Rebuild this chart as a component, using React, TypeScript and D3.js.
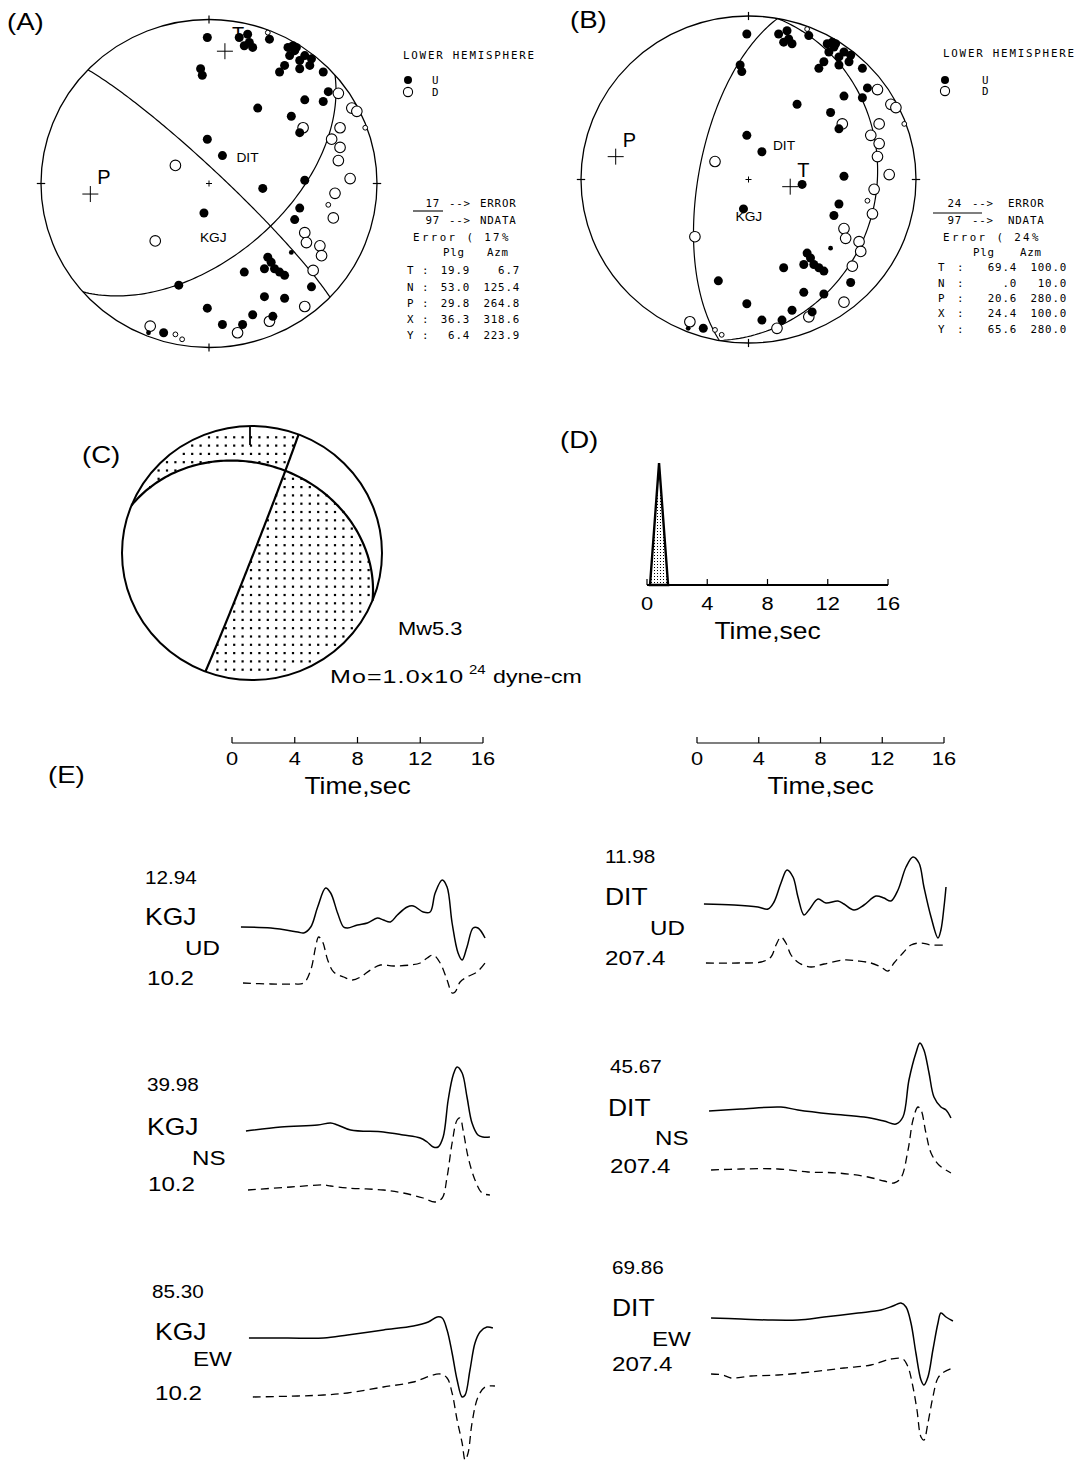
import React from "react";
import * as d3 from "d3";

const DEG = Math.PI / 180;
const SANS = "'Liberation Sans', Arial, Helvetica, sans-serif";
const MONO = "'DejaVu Sans Mono', 'Liberation Mono', monospace";
const SX = 1.15;

// first-motion readings, as positions on the unit net [east, north]
const compressions: [number, number][] = [
  [-0.01, 0.89], [-0.05, 0.7], [-0.04, 0.66], [0.18, 0.89], [0.23, 0.91], [0.24, 0.86],
  [0.26, 0.83], [0.21, 0.84], [0.36, 0.88], [0.5, 0.84], [0.48, 0.78], [0.54, 0.75],
  [0.45, 0.72], [0.42, 0.68], [0.51, 0.81], [0.57, 0.78], [0.6, 0.72], [0.52, 0.83],
  [0.47, 0.83], [0.54, 0.7], [0.61, 0.76], [0.68, 0.68], [0.71, 0.56], [0.68, 0.5],
  [0.57, 0.51], [0.29, 0.46], [0.49, 0.41], [0.54, 0.31], [-0.01, 0.27], [0.57, 0.02],
  [0.32, -0.03], [0.54, -0.15], [0.51, -0.22], [0.35, -0.45], [0.37, -0.48], [0.39, -0.52],
  [0.42, -0.54], [0.45, -0.56], [0.33, -0.52], [0.21, -0.54], [-0.18, -0.62], [0.61, -0.63],
  [0.33, -0.69], [0.45, -0.7], [-0.01, -0.76], [0.26, -0.8], [0.38, -0.81], [0.08, -0.86],
  [0.2, -0.86], [-0.27, -0.91],
];
const weakCompressions: [number, number][] = [[0.49, -0.42], [-0.36, -0.91]];
const dilatations: [number, number][] = [
  [0.77, 0.55], [0.85, 0.46], [0.88, 0.44], [0.56, 0.34], [0.78, 0.34], [0.73, 0.27],
  [0.78, 0.22], [0.77, 0.14], [0.84, 0.03], [0.75, -0.06], [0.74, -0.21], [0.57, -0.3],
  [0.58, -0.36], [0.66, -0.38], [0.67, -0.44], [0.62, -0.53], [0.57, -0.75], [0.36, -0.84],
  [0.17, -0.91], [-0.2, 0.11], [-0.32, -0.35], [-0.35, -0.87],
];
const weakDilatations: [number, number][] = [
  [0.93, 0.34], [0.71, -0.13], [0.35, 0.92], [-0.2, -0.92], [-0.16, -0.95],
];
const stationNames = ["KGJ", "DIT"];
const stationNet: [number, number][] = [[-0.03, -0.18], [0.08, 0.17]];

// focal mechanism solutions (A) and (B)
const axisNames = ["T", "N", "P", "X", "Y"];
const plungeA = [19.9, 53.0, 29.8, 36.3, 6.4];
const azimuthA = [6.7, 125.4, 264.8, 318.6, 223.9];
const plungeB = [69.4, 0.0, 20.6, 24.4, 65.6];
const azimuthB = [100.0, 10.0, 280.0, 100.0, 280.0];
const errorCounts = [17, 24];
const dataCounts = [97, 97];
const errorPercents = [17, 24];

// (C) final mechanism: [strike, dip]
const finalPlanes: [number, number][] = [[21, 89], [292, 31]];
const compressionalDir = [135, 45]; // trend, plunge inside the shaded quadrant
const mw = 5.3;
const moMantissa = 1.0;
const moExponent = 24;

// (D) source time function
const stfTime = [0, 0.2, 0.8, 1.4, 16];
const stfAmp = [0, 0, 1, 0, 0];
const timeTicks = [0, 4, 8, 12, 16];

// (E) waveforms [time sec, amplitude]
const kgjUdObs: [number, number][] = [
  [0.57, 0], [2.48, -0.1], [4.19, -0.5], [4.57, -0.6], [5.02, 0], [5.46, 2.0], [5.97, 3.9],
  [6.29, 3.4], [6.73, 1.4], [7.11, 0], [7.37, -0.1], [8.0, 0.2], [8.63, 0.4], [9.27, 0.9],
  [9.65, 0.7], [10.1, 0.5], [10.54, 1.2], [11.17, 2.0], [11.56, 2.1], [12.19, 1.5], [12.63, 1.5],
  [12.95, 3.4], [13.4, 4.7], [13.71, 4.0], [14.03, 0.4], [14.41, -2.6], [14.67, -3.3],
  [14.98, -2.0], [15.37, -0.1], [15.68, -0.1], [16.13, -1.1],
];
const kgjUdSyn: [number, number][] = [
  [0.7, 0], [2.48, -0.1], [3.94, -0.1], [4.57, 0], [5.02, 1.3], [5.33, 3.6], [5.52, 4.6],
  [5.78, 4.1], [6.1, 2.3], [6.48, 1.1], [7.11, 0.6], [7.68, 0.3], [8.19, 0.6], [8.83, 1.3],
  [9.46, 1.8], [10.29, 1.7], [11.37, 1.8], [12.0, 2.0], [12.44, 2.5], [12.83, 2.8], [13.27, 2.0],
  [13.71, 0.3], [14.03, -1.0], [14.22, -0.9], [14.54, 0.1], [14.98, 0.6], [15.62, 1.1], [16.13, 2.0],
];
const kgjNsObs: [number, number][] = [
  [0.89, 0], [3.11, 0.4], [5.46, 0.6], [6.29, 0.8], [6.73, 0.6], [7.56, 0.1], [9.65, -0.1],
  [10.92, -0.4], [12.0, -0.7], [12.44, -1.1], [12.83, -1.6], [13.14, -1.6], [13.46, -0.6],
  [13.78, 3.1], [14.1, 5.6], [14.35, 6.4], [14.67, 5.8], [14.98, 3.4], [15.3, 0.8], [15.68, -0.4],
  [16.0, -0.6], [16.44, -0.6],
];
const kgjNsSyn: [number, number][] = [
  [1.02, 0], [3.75, 0.3], [5.84, 0.5], [6.29, 0.4], [7.37, 0.2], [9.65, 0], [10.92, -0.3],
  [12.19, -0.8], [12.95, -1.2], [13.4, -0.8], [13.71, 1.3], [14.03, 4.7], [14.35, 7.0],
  [14.54, 7.2], [14.73, 6.0], [15.05, 3.3], [15.49, 1.0], [15.94, -0.3], [16.44, -0.5],
];
const kgjEwObs: [number, number][] = [
  [1.08, 0], [3.56, 0], [5.84, 0], [7.37, 0.3], [9.65, 0.8], [11.56, 1.2], [12.51, 1.6],
  [13.08, 2.1], [13.4, 2.0], [13.71, 0.8], [14.03, -1.5], [14.35, -4.2], [14.67, -5.9],
  [14.86, -5.7], [15.17, -3.2], [15.49, -0.5], [15.81, 0.6], [16.25, 1.1], [16.63, 1.0],
];
const kgjEwSyn: [number, number][] = [
  [1.33, 0], [4.19, 0.1], [5.84, 0.2], [7.37, 0.4], [9.65, 1.0], [11.56, 1.5], [12.63, 2.1],
  [13.27, 2.3], [13.71, 1.9], [14.03, 0.4], [14.35, -2.3], [14.67, -4.6], [14.86, -6.3],
  [15.05, -5.6], [15.3, -2.6], [15.68, 0], [16.13, 1.0], [16.76, 1.1],
];
const ditUdObs: [number, number][] = [
  [0.45, 0], [2.4, -0.1], [3.95, -0.3], [4.6, -0.5], [4.99, 0.2], [5.44, 2.1], [5.83, 3.4],
  [6.22, 2.7], [6.54, 0.7], [6.93, -1.1], [7.25, -0.6], [7.84, 0.5], [8.35, 0.1], [9.13, 0.3],
  [9.52, 0], [10.17, -0.6], [10.82, -0.1], [11.59, 0.8], [12.11, 0.6], [12.56, 0.3], [13.02, 1.4],
  [13.54, 3.7], [13.99, 4.7], [14.38, 4.1], [14.7, 1.7], [15.16, -1.3], [15.61, -3.4],
  [15.8, -2.6], [16.0, -0.3], [16.13, 1.7],
];
const ditUdSyn: [number, number][] = [
  [0.58, 0], [2.66, 0], [4.15, 0.1], [4.79, 0.6], [5.12, 1.8], [5.44, 2.6], [5.76, 2.0],
  [6.09, 0.8], [6.61, 0], [7.38, -0.4], [8.23, -0.1], [9.52, 0.3], [10.43, 0.2], [11.27, 0],
  [11.92, -0.4], [12.37, -0.8], [12.76, 0], [13.34, 1.0], [13.86, 1.8], [14.51, 2.0],
  [15.16, 1.8], [16.13, 1.8],
];
const ditNsObs: [number, number][] = [
  [0.78, 0], [2.85, 0.2], [5.44, 0.4], [6.54, 0.1], [8.68, -0.3], [10.82, -0.6], [12.11, -1.0],
  [12.89, -1.3], [13.34, -0.6], [13.73, 3.1], [14.18, 5.8], [14.44, 6.8], [14.7, 6.1],
  [15.03, 3.8], [15.35, 1.4], [15.8, 0.4], [16.13, 0.1], [16.45, -0.7],
];
const ditNsSyn: [number, number][] = [
  [0.91, 0], [2.85, 0.1], [5.25, 0.1], [7.19, -0.2], [9.13, -0.3], [11.08, -0.7], [12.11, -1.1],
  [12.76, -1.3], [13.21, -0.8], [13.67, 2.0], [13.99, 5.0], [14.31, 6.3], [14.51, 6.0],
  [14.83, 3.7], [15.16, 1.7], [15.67, 0.5], [16.45, -0.3],
];
const ditEwObs: [number, number][] = [
  [0.91, 0], [2.85, -0.1], [4.6, -0.2], [6.54, -0.2], [8.23, 0.1], [10.43, 0.5], [11.92, 0.8],
  [12.69, 1.2], [13.21, 1.5], [13.54, 1.1], [13.86, -0.5], [14.18, -3.5], [14.51, -6.2],
  [14.7, -6.7], [14.96, -5.9], [15.28, -3.2], [15.61, -0.5], [15.8, 0.5], [16.13, 0.1], [16.58, -0.3],
];
const ditEwSyn: [number, number][] = [
  [0.91, 0], [1.68, -0.1], [2.2, -0.4], [3.5, -0.2], [5.25, -0.1], [7.38, 0.2], [9.52, 0.6],
  [11.27, 0.9], [12.56, 1.5], [13.34, 1.5], [13.67, 0.7], [13.99, -1.3], [14.25, -3.6],
  [14.51, -6.3], [14.7, -6.6], [14.96, -4.9], [15.28, -2.3], [15.61, -0.4], [16.0, 0.2], [16.58, 0.6],
];
const components = ["UD", "NS", "EW"];
const peakAmps = [[12.94, 39.98, 85.3], [11.98, 45.67, 69.86]];
const stationAzimuths = [10.2, 207.4];
const observed = [[kgjUdObs, kgjNsObs, kgjEwObs], [ditUdObs, ditNsObs, ditEwObs]];
const synthetic = [[kgjUdSyn, kgjNsSyn, kgjEwSyn], [ditUdSyn, ditNsSyn, ditEwSyn]];

// ---------- layout ----------
const netA = { cx: 209, cy: 183.5, rx: 168, ry: 164, label: [[-4, 29], [14, 6]] };
const netB = { cx: 748.5, cy: 179.5, rx: 167.5, ry: 163.5, label: [[-8, 12], [11, -2]] };
const tableA = {
  titleX: 403, titleY: 59, symX: 408, upY: 80, downY: 92, letterX: 432, numRight: 440,
  arrowX: 449, wordX: 480, barX1: 413, barX2: 443, barY: 211, errX: 413, plgX: 443, azmX: 487,
  keyX: 407, colonX: 422, v1Right: 470, v2Right: 520, rowY: [207, 224, 241, 256, 274, 291, 307, 323, 339],
};
const tableB = {
  titleX: 943, titleY: 57, symX: 945, upY: 80, downY: 91, letterX: 982, numRight: 962,
  arrowX: 972, wordX: 1008, barX1: 933, barX2: 982, barY: 213, errX: 943, plgX: 973, azmX: 1020,
  keyX: 938, colonX: 957, v1Right: 1017, v2Right: 1067, rowY: [207, 224, 241, 256, 271, 287, 302, 317, 333],
};
const ball = { cx: 252, cy: 553, rx: 130, ry: 127 };
const rows = [
  { s: 0, c: 0, obsY: 927, synY: 983, amp: [145, 884], sta: [145, 925], comp: [185, 955], az: [147, 985] },
  { s: 0, c: 1, obsY: 1131, synY: 1190, amp: [147, 1091], sta: [147, 1135], comp: [192, 1165], az: [148, 1191] },
  { s: 0, c: 2, obsY: 1338, synY: 1397, amp: [152, 1298], sta: [155, 1340], comp: [193, 1366], az: [155, 1400] },
  { s: 1, c: 0, obsY: 904, synY: 963, amp: [605, 863], sta: [605, 905], comp: [650, 935], az: [605, 965] },
  { s: 1, c: 1, obsY: 1111, synY: 1170, amp: [610, 1073], sta: [608, 1116], comp: [655, 1145], az: [610, 1173] },
  { s: 1, c: 2, obsY: 1318, synY: 1374, amp: [612, 1274], sta: [612, 1316], comp: [652, 1346], az: [612, 1371] },
];
const timeLeft = d3.scaleLinear().domain([0, 16]).range([232, 483]);
const timeRight = d3.scaleLinear().domain([0, 16]).range([697, 944]);
const timeStf = d3.scaleLinear().domain([0, 16]).range([647, 888]);

// ---------- geometry helpers ----------
const project = (trend: number, plunge: number): [number, number] => {
  const r = Math.SQRT2 * Math.sin(((90 - plunge) / 2) * DEG);
  return [r * Math.sin(trend * DEG), r * Math.cos(trend * DEG)];
};
const lineVector = (trend: number, plunge: number) => [
  Math.cos(plunge * DEG) * Math.sin(trend * DEG),
  Math.cos(plunge * DEG) * Math.cos(trend * DEG),
  Math.sin(plunge * DEG),
];
const greatCircle = (strike: number, dip: number): [number, number][] => {
  const s = strike * DEG;
  const d = dip * DEG;
  const sv = [Math.sin(s), Math.cos(s), 0];
  const dv = [Math.cos(d) * Math.sin(s + Math.PI / 2), Math.cos(d) * Math.cos(s + Math.PI / 2), Math.sin(d)];
  return d3.range(0, 180.01, 1.5).map((lam) => {
    const l = lam * DEG;
    const v = sv.map((c, i) => Math.cos(l) * c + Math.sin(l) * dv[i]);
    const plunge = Math.asin(Math.max(-1, Math.min(1, v[2]))) / DEG;
    const trend = Math.atan2(v[0], v[1]) / DEG;
    return project(trend, plunge);
  });
};
const fmt = (v: number) => v.toFixed(1).replace(/^0\./, ".");

function Txt({ x, y, size, anchor = "start", sx = SX, family = SANS, spacing, children }: any) {
  return (
    <text
      transform={`translate(${x},${y}) scale(${sx},1)`}
      fontSize={size}
      textAnchor={anchor}
      fontFamily={family}
      letterSpacing={spacing}
      fill="#000"
    >
      {children}
    </text>
  );
}

function Stereonet({ net, plunges, azimuths }: any) {
  const x = d3.scaleLinear().domain([-1, 1]).range([net.cx - net.rx, net.cx + net.rx]);
  const y = d3.scaleLinear().domain([-1, 1]).range([net.cy + net.ry, net.cy - net.ry]);
  const line = d3.line<[number, number]>().x((d) => x(d[0])).y((d) => y(d[1]));
  // nodal planes from the X and Y poles
  const planes = [3, 4].map((i) => greatCircle(azimuths[i] + 90, 90 - plunges[i]));
  const axes = [
    { name: "P", pos: project(azimuths[2], plunges[2]) },
    { name: "T", pos: project(azimuths[0], plunges[0]) },
  ];
  const ticks: [number, number][] = [[0, 1], [1, 0], [0, -1], [-1, 0]];
  return (
    <g>
      <ellipse cx={net.cx} cy={net.cy} rx={net.rx} ry={net.ry} fill="none" stroke="#000" strokeWidth={1.3} />
      {ticks.map(([e, n], i) => (
        <line key={i} x1={x(e * 0.975)} y1={y(n * 0.975)} x2={x(e * 1.025)} y2={y(n * 1.025)} stroke="#000" strokeWidth={1.2} />
      ))}
      <path d={`M${net.cx - 3},${net.cy}h6M${net.cx},${net.cy - 3}v6`} stroke="#000" strokeWidth={1} />
      {planes.map((p, i) => (
        <path key={i} d={line(p) || ""} fill="none" stroke="#000" strokeWidth={1.2} />
      ))}
      {dilatations.map((d, i) => (
        <circle key={"d" + i} cx={x(d[0])} cy={y(d[1])} r={5.3} fill="#fff" stroke="#000" strokeWidth={1.1} />
      ))}
      {weakDilatations.map((d, i) => (
        <circle key={"wd" + i} cx={x(d[0])} cy={y(d[1])} r={2.4} fill="#fff" stroke="#000" strokeWidth={1} />
      ))}
      {compressions.concat(stationNet).map((d, i) => (
        <circle key={"c" + i} cx={x(d[0])} cy={y(d[1])} r={4.5} fill="#000" />
      ))}
      {weakCompressions.map((d, i) => (
        <circle key={"wc" + i} cx={x(d[0])} cy={y(d[1])} r={2.4} fill="#000" />
      ))}
      {stationNames.map((s, i) => (
        <Txt key={s} x={x(stationNet[i][0]) + net.label[i][0]} y={y(stationNet[i][1]) + net.label[i][1]} size={12.5} sx={1.1}>
          {s}
        </Txt>
      ))}
      {axes.map((a) => (
        <g key={a.name}>
          <path
            d={`M${x(a.pos[0]) - 8},${y(a.pos[1])}h16M${x(a.pos[0])},${y(a.pos[1]) - 8}v16`}
            stroke="#000"
            strokeWidth={1}
          />
          <Txt x={x(a.pos[0]) + 7} y={y(a.pos[1]) - 10} size={21} sx={0.95}>
            {a.name}
          </Txt>
        </g>
      ))}
    </g>
  );
}

function SolutionTable({ L, k, plunges, azimuths }: any) {
  const m = { family: MONO, sx: 1, size: 10.8, spacing: 0.8 };
  return (
    <g>
      <Txt x={L.titleX} y={L.titleY} {...m} spacing={1.8}>LOWER HEMISPHERE</Txt>
      <circle cx={L.symX} cy={L.upY} r={4} fill="#000" />
      <circle cx={L.symX} cy={L.downY} r={4.6} fill="#fff" stroke="#000" strokeWidth={1.1} />
      <Txt x={L.letterX} y={L.upY + 4} {...m}>U</Txt>
      <Txt x={L.letterX} y={L.downY + 4} {...m}>D</Txt>
      <Txt x={L.numRight} y={L.rowY[0]} {...m} anchor="end">{errorCounts[k]}</Txt>
      <Txt x={L.arrowX} y={L.rowY[0]} {...m}>--&gt;</Txt>
      <Txt x={L.wordX} y={L.rowY[0]} {...m}>ERROR</Txt>
      <line x1={L.barX1} x2={L.barX2} y1={L.barY} y2={L.barY} stroke="#000" strokeWidth={1.1} />
      <Txt x={L.numRight} y={L.rowY[1]} {...m} anchor="end">{dataCounts[k]}</Txt>
      <Txt x={L.arrowX} y={L.rowY[1]} {...m}>--&gt;</Txt>
      <Txt x={L.wordX} y={L.rowY[1]} {...m}>NDATA</Txt>
      <Txt x={L.errX} y={L.rowY[2]} {...m} spacing={2.4}>{`Error ( ${errorPercents[k]}%`}</Txt>
      <Txt x={L.plgX} y={L.rowY[3]} {...m}>Plg</Txt>
      <Txt x={L.azmX} y={L.rowY[3]} {...m}>Azm</Txt>
      {axisNames.map((a, i) => (
        <g key={a}>
          <Txt x={L.keyX} y={L.rowY[4 + i]} {...m}>{a}</Txt>
          <Txt x={L.colonX} y={L.rowY[4 + i]} {...m}>:</Txt>
          <Txt x={L.v1Right} y={L.rowY[4 + i]} {...m} anchor="end">{fmt(plunges[i])}</Txt>
          <Txt x={L.v2Right} y={L.rowY[4 + i]} {...m} anchor="end">{fmt(azimuths[i])}</Txt>
        </g>
      ))}
    </g>
  );
}

function BeachBall() {
  const { cx, cy, rx, ry } = ball;
  const x = d3.scaleLinear().domain([-1, 1]).range([cx - rx, cx + rx]);
  const y = d3.scaleLinear().domain([-1, 1]).range([cy + ry, cy - ry]);
  const line = d3.line<[number, number]>().x((d) => x(d[0])).y((d) => y(d[1]));
  const normals = finalPlanes.map(([s, d]) => lineVector(s - 90, 90 - d));
  const dot = (a: number[], b: number[]) => a[0] * b[0] + a[1] * b[1] + a[2] * b[2];
  const side = (v: number[]) => Math.sign(dot(normals[0], v) * dot(normals[1], v));
  const refSide = side(lineVector(compressionalDir[0], compressionalDir[1]));
  const dots: [number, number][] = [];
  for (let gx = cx - rx + 3; gx <= cx + rx; gx += 8.4) {
    for (let gy = cy - ry + 3; gy <= cy + ry; gy += 8.3) {
      const e = x.invert(gx);
      const n = y.invert(gy);
      const r = Math.hypot(e, n);
      if (r > 0.97) continue;
      const plunge = 90 - (2 * Math.asin(r / Math.SQRT2)) / DEG;
      const trend = Math.atan2(e, n) / DEG;
      if (side(lineVector(trend, plunge)) === refSide) dots.push([gx, gy]);
    }
  }
  return (
    <g>
      {dots.map((d, i) => (
        <rect key={i} x={d[0] - 1.1} y={d[1] - 1.1} width={2.2} height={2.2} fill="#000" />
      ))}
      <ellipse cx={cx} cy={cy} rx={rx} ry={ry} fill="none" stroke="#000" strokeWidth={2} />
      <line x1={x(0) - 2} x2={x(0) - 2} y1={y(1)} y2={y(1) + 19} stroke="#000" strokeWidth={1.8} />
      {finalPlanes.map(([s, d], i) => (
        <path key={i} d={line(greatCircle(s, d)) || ""} fill="none" stroke="#000" strokeWidth={2.2} />
      ))}
      <Txt x={398} y={635} size={19}>{`Mw${mw.toFixed(1)}`}</Txt>
      <Txt x={330} y={683} size={19} sx={1.32} spacing={0.8}>{`Mo=${moMantissa.toFixed(1)}x10`}</Txt>
      <Txt x={469} y={674} size={13} sx={1.15}>{moExponent}</Txt>
      <Txt x={493} y={683} size={19} sx={1.22}>dyne-cm</Txt>
    </g>
  );
}

function TimeAxis({ scale, y, width, labelY, titleY }: any) {
  return (
    <g>
      <line x1={scale(0)} x2={scale(16)} y1={y} y2={y} stroke="#000" strokeWidth={width} />
      {timeTicks.map((t) => (
        <g key={t}>
          <line x1={scale(t)} x2={scale(t)} y1={y} y2={y - 6} stroke="#000" strokeWidth={1.2} />
          <Txt x={scale(t)} y={labelY} size={19} anchor="middle">{t}</Txt>
        </g>
      ))}
      <Txt x={(scale(0) + scale(16)) / 2} y={titleY} size={23} anchor="middle">Time,sec</Txt>
    </g>
  );
}

function SourceTime() {
  const base = 585;
  const amp = d3.scaleLinear().domain([0, 1]).range([base, 463]);
  const pts = stfTime.map((t, i) => [timeStf(t), amp(stfAmp[i])] as [number, number]);
  const tri = d3.line<[number, number]>()(pts.slice(1, 4)) || "";
  return (
    <g>
      <path d={tri + "Z"} fill="url(#stfDots)" stroke="#000" strokeWidth={2.4} strokeLinejoin="miter" />
      <TimeAxis scale={timeStf} y={base} width={2} labelY={610} titleY={639} />
    </g>
  );
}

function Waveforms() {
  const curve = d3.curveCatmullRom.alpha(0.5);
  return (
    <g>
      {rows.map((r, i) => {
        const tx = r.s === 0 ? timeLeft : timeRight;
        const mk = (base: number) => {
          const ya = d3.scaleLinear().domain([0, 1]).range([base, base - 10]);
          return d3.line<[number, number]>().x((d) => tx(d[0])).y((d) => ya(d[1])).curve(curve);
        };
        return (
          <g key={i}>
            <path d={mk(r.obsY)(observed[r.s][r.c]) || ""} fill="none" stroke="#000" strokeWidth={1.5} />
            <path d={mk(r.synY)(synthetic[r.s][r.c]) || ""} fill="none" stroke="#000" strokeWidth={1.3} strokeDasharray="8 5" />
            <Txt x={r.amp[0]} y={r.amp[1]} size={18}>{peakAmps[r.s][r.c].toFixed(2)}</Txt>
            <Txt x={r.sta[0]} y={r.sta[1]} size={23}>{stationNames[r.s]}</Txt>
            <Txt x={r.comp[0]} y={r.comp[1]} size={21}>{components[r.c]}</Txt>
            <Txt x={r.az[0]} y={r.az[1]} size={21}>{stationAzimuths[r.s].toFixed(1)}</Txt>
          </g>
        );
      })}
    </g>
  );
}

const panelLabels = [
  { t: "(A)", x: 7, y: 30 },
  { t: "(B)", x: 570, y: 28 },
  { t: "(C)", x: 82, y: 463 },
  { t: "(D)", x: 560, y: 448 },
  { t: "(E)", x: 48, y: 783 },
];

export default function App() {
  return (
    <svg
      width={1080}
      height={1463}
      style={{ position: "absolute", left: 0, top: 0, background: "#fff" }}
      fontFamily={SANS}
    >
      <defs>
        <pattern id="stfDots" width={3} height={3} patternUnits="userSpaceOnUse">
          <rect width={1} height={1} fill="#000" />
        </pattern>
      </defs>
      <rect width={1080} height={1463} fill="#fff" />
      {panelLabels.map((p) => (
        <Txt key={p.t} x={p.x} y={p.y} size={23} sx={1.2}>{p.t}</Txt>
      ))}
      <Stereonet net={netA} plunges={plungeA} azimuths={azimuthA} />
      <SolutionTable L={tableA} k={0} plunges={plungeA} azimuths={azimuthA} />
      <Stereonet net={netB} plunges={plungeB} azimuths={azimuthB} />
      <SolutionTable L={tableB} k={1} plunges={plungeB} azimuths={azimuthB} />
      <BeachBall />
      <SourceTime />
      <TimeAxis scale={timeLeft} y={743} width={1.2} labelY={765} titleY={794} />
      <TimeAxis scale={timeRight} y={743} width={1.2} labelY={765} titleY={794} />
      <Waveforms />
    </svg>
  );
}
